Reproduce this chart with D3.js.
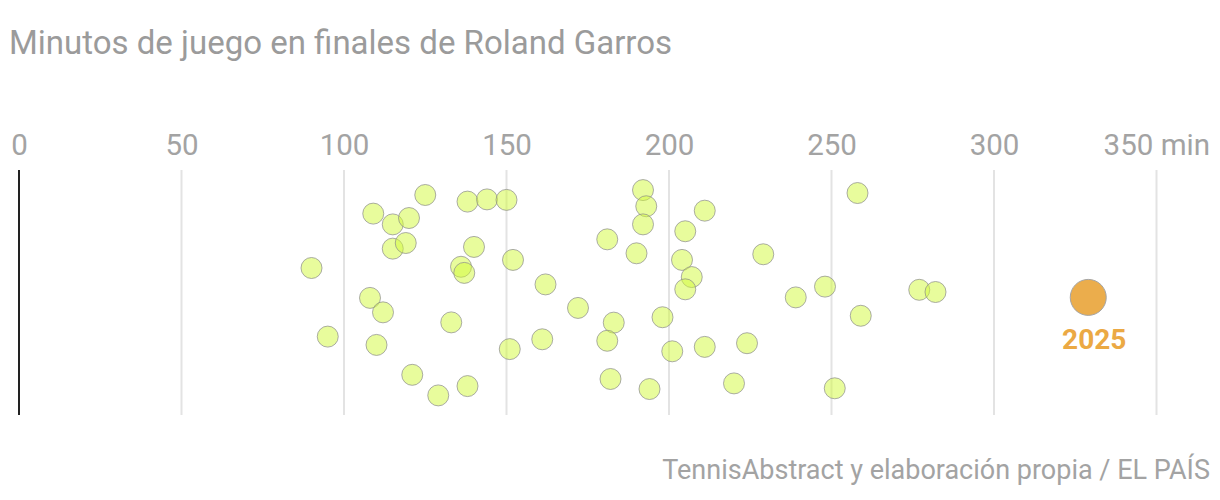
<!DOCTYPE html>
<html>
<head>
<meta charset="utf-8">
<script src="https://cdn.jsdelivr.net/npm/d3@7"></script>
<style>
  html, body { margin: 0; padding: 0; background: #fff; }
  svg { display: block; }
  text { font-family: Roboto, "Liberation Sans", sans-serif; }
</style>
</head>
<body>
<svg id="chart" width="1220" height="500"></svg>
<script>
// ---- data ----
const title = "Minutos de juego en finales de Roland Garros";
const source = "TennisAbstract y elaboración propia / EL PAÍS";
const tickValues = [0, 50, 100, 150, 200, 250, 300, 350];
const tickLabels = ["0", "50", "100", "150", "200", "250", "300", "350 min"];
// minutes of each final (previous years) and vertical jitter (0-100 band position)
const minutes = [90, 95, 109, 115, 120, 115, 119, 125, 138, 144, 140, 136, 137, 108, 112, 133, 110, 121, 129, 138,
                 150, 152, 162, 172, 151, 161, 181, 192, 193, 192, 190, 183, 181, 182, 194, 198, 201, 205, 211, 204,
                 207, 205, 211, 229, 239, 248, 224, 220, 251, 258, 259, 277, 282];
const jitter  = [40.0, 68.0, 17.8, 22.2, 19.6, 32.1, 29.8, 10.2, 12.9, 12.0, 31.4, 39.5, 42.0, 52.2, 58.1, 62.2, 71.4, 83.6, 92.0, 88.2,
                 12.2, 36.7, 46.7, 56.3, 73.1, 69.1, 28.3, 8.2, 14.8, 22.2, 34.0, 62.3, 69.7, 85.3, 89.4, 60.1, 74.0, 25.0, 16.6, 36.7,
                 43.7, 48.7, 72.2, 34.4, 52.0, 47.6, 70.7, 87.1, 89.1, 9.4, 59.5, 48.9, 49.8];
const highlightYear = "2025";
const highlightMinutes = 329;
const highlightJitter = 52.0;

// ---- layout ----
const W = 1220, H = 500;
const svg = d3.select("#chart");
const x = d3.scaleLinear().domain([0, 350]).range([19, 1156.5]);
const y = d3.scaleLinear().domain([0, 100]).range([170, 415]);
const grey = "#9b9b9b";

// title
svg.append("text")
  .attr("x", 9).attr("y", 54)
  .attr("font-size", 33)
  .attr("fill", grey)
  .text(title);

// gridlines
svg.append("g")
  .selectAll("line")
  .data(tickValues.filter(d => d > 0))
  .join("line")
  .attr("x1", d => x(d)).attr("x2", d => x(d))
  .attr("y1", y(0)).attr("y2", y(100))
  .attr("stroke", "#e3e3e3").attr("stroke-width", 2);

// zero line
svg.append("line")
  .attr("x1", x(0)).attr("x2", x(0))
  .attr("y1", y(0)).attr("y2", y(100))
  .attr("stroke", "#222").attr("stroke-width", 2);

// top axis labels
const axis = d3.axisTop(x).tickValues(tickValues).tickSize(0).tickFormat((d, i) => tickLabels[i]);
const gAxis = svg.append("g").attr("transform", "translate(0,155)").call(axis);
gAxis.select(".domain").remove();
gAxis.selectAll("text")
  .attr("y", 0).attr("dy", 0)
  .attr("font-size", 29.5)
  .attr("font-family", "Roboto, sans-serif")
  .attr("fill", "#a3a3a3");
gAxis.selectAll(".tick").filter(d => d === 350)
  .attr("transform", null)
  .select("text").attr("text-anchor", "end").attr("x", 1210);

// bubbles
const pts = minutes.map((m, i) => ({ m, j: jitter[i] }));
svg.append("g")
  .selectAll("circle")
  .data(pts)
  .join("circle")
  .attr("cx", d => x(d.m))
  .attr("cy", d => y(d.j))
  .attr("r", 10.5)
  .attr("fill", "#d2fa3a")
  .attr("fill-opacity", 0.5)
  .attr("stroke", "#8a8a8a")
  .attr("stroke-opacity", 0.7)
  .attr("stroke-width", 1);

// highlight
svg.append("circle")
  .attr("cx", x(highlightMinutes)).attr("cy", y(highlightJitter))
  .attr("r", 18)
  .attr("fill", "#ebad4c")
  .attr("stroke", "#a5a5a5").attr("stroke-width", 1);
svg.append("text")
  .attr("x", x(highlightMinutes) + 6).attr("y", y(highlightJitter) + 52)
  .attr("text-anchor", "middle")
  .attr("font-size", 28).attr("font-weight", 700)
  .attr("fill", "#eba944")
  .text(highlightYear);

// source
svg.append("text")
  .attr("x", 1210).attr("y", 479)
  .attr("text-anchor", "end")
  .attr("font-size", 27)
  .attr("fill", "#a3a3a3")
  .text(source);
</script>
</body>
</html>
